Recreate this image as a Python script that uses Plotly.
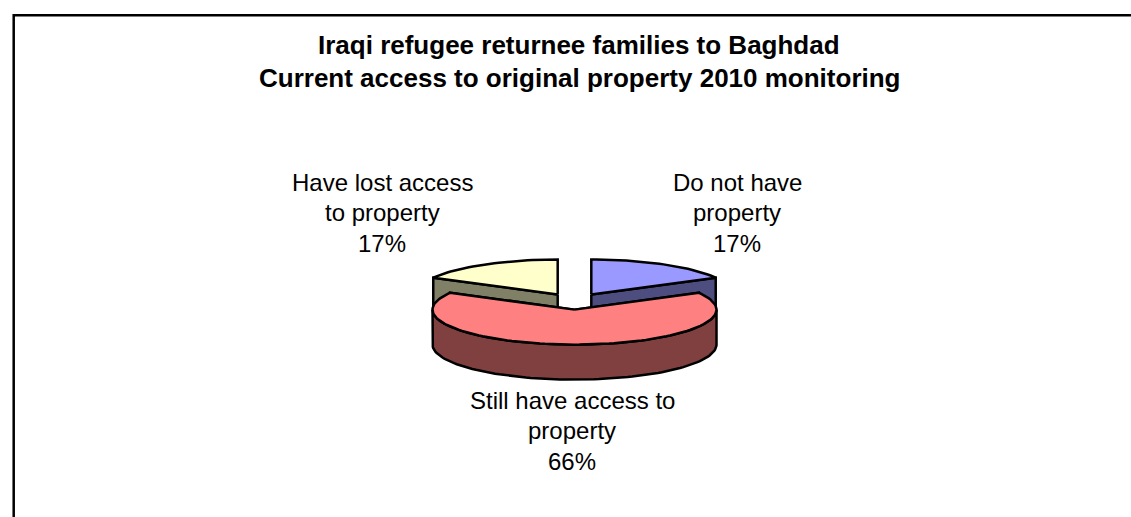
import math
import plotly.graph_objects as go

# Survey results, clockwise from twelve o'clock
categories = [["Do not have", "property"], ["Still have access to", "property"], ["Have lost access", "to property"]]
shares = [17, 66, 17]
top_colors = ["#9999FF", "#FF8080", "#FFFFCC"]
side_colors = ["#4D4D80", "#804040", "#808066"]
title_lines = ["Iraqi refugee returnee families to Baghdad",
               "Current access to original property 2010 monitoring"]

W, H = 1131, 517
CX, CY = 574.5, 301.5      # pie centre before exploding
RX, RY = 142.0, 35.0       # projected ellipse radii
DEPTH = 35.0               # extruded height of the slices
EXPLODE = 33.0             # slice offset, in units of RX
EDGE = dict(color="black", width=2.5)
ARC_STEP = math.radians(2)
FONT = "Liberation Sans, Arial, sans-serif"


def project(cx, cy, angle, radius=1.0):
    """Screen position of a point at a clockwise angle from twelve o'clock."""
    return cx + RX * radius * math.sin(angle), cy - RY * radius * math.cos(angle)


def arc(cx, cy, a0, a1):
    n = max(2, int(abs(a1 - a0) / ARC_STEP))
    return [project(cx, cy, a0 + (a1 - a0) * i / n) for i in range(n + 1)]


def polygon(points, color):
    xs = [p[0] for p in points] + [points[0][0]]
    ys = [p[1] for p in points] + [points[0][1]]
    return go.Scatter(x=xs, y=ys, mode="lines", fill="toself", fillcolor=color,
                      line=EDGE, hoverinfo="skip", showlegend=False)


def drop(points):
    return [(x, y + DEPTH) for x, y in points]


total = sum(shares)
slices = []
start = 0.0
for share, top, side in zip(shares, top_colors, side_colors):
    sweep = 2 * math.pi * share / total
    mid = start + sweep / 2
    ox, oy = project(CX, CY, mid, EXPLODE / RX)
    slices.append(dict(a0=start, a1=start + sweep, ox=ox, oy=oy, top=top, side=side))
    start += sweep

fig = go.Figure()
# Back slices first so the large front slice overlaps them
for s in (slices[0], slices[2], slices[1]):
    a0, a1, ox, oy = s["a0"], s["a1"], s["ox"], s["oy"]
    # Cut faces that look towards the viewer
    for edge_angle in (a0, a1):
        if math.cos(edge_angle) > 0 and abs(math.sin(edge_angle)) > 0.01:
            face = [(ox, oy), project(ox, oy, edge_angle)]
            fig.add_trace(polygon(face + drop(face)[::-1], s["side"]))
    # Outer wall along the near half of the rim
    lo, hi = max(a0, math.pi / 2), min(a1, 3 * math.pi / 2)
    if hi > lo:
        rim = arc(ox, oy, lo, hi)
        fig.add_trace(polygon(rim + drop(rim)[::-1], s["side"]))
    fig.add_trace(polygon([(ox, oy)] + arc(ox, oy, a0, a1), s["top"]))


def text_block(lines, x, first_y, spacing, size, bold=False):
    """One annotation per line so the line pitch can be set exactly."""
    return [dict(x=x, y=first_y + i * spacing, text=f"<b>{t}</b>" if bold else t,
                 xref="x", yref="y", showarrow=False, xanchor="center", yanchor="middle",
                 font=dict(family=FONT, size=size, color="black"))
            for i, t in enumerate(lines)]


annotations = text_block(title_lines, 579, 45, 33, 26, bold=True)
label_anchors = [(737, 182), (572, 400), (382, 182)]
for cat, share, (lx, ly) in zip(categories, shares, label_anchors):
    annotations += text_block(cat + [f"{share}%"], lx, ly, 30.5, 24)

fig.update_layout(
    width=W, height=H, margin=dict(l=0, r=0, t=0, b=0, pad=0),
    paper_bgcolor="white", plot_bgcolor="white", showlegend=False,
    xaxis=dict(range=[0, W], visible=False, fixedrange=True),
    yaxis=dict(range=[H, 0], visible=False, fixedrange=True),
    annotations=annotations,
    shapes=[dict(type="rect", xref="x", yref="y", x0=13.7, y0=15.2, x1=W + 10, y1=H + 10,
                 line=dict(color="black", width=2.5), layer="below")],
)

fig.write_html("out.html", config={"displayModeBar": False})
